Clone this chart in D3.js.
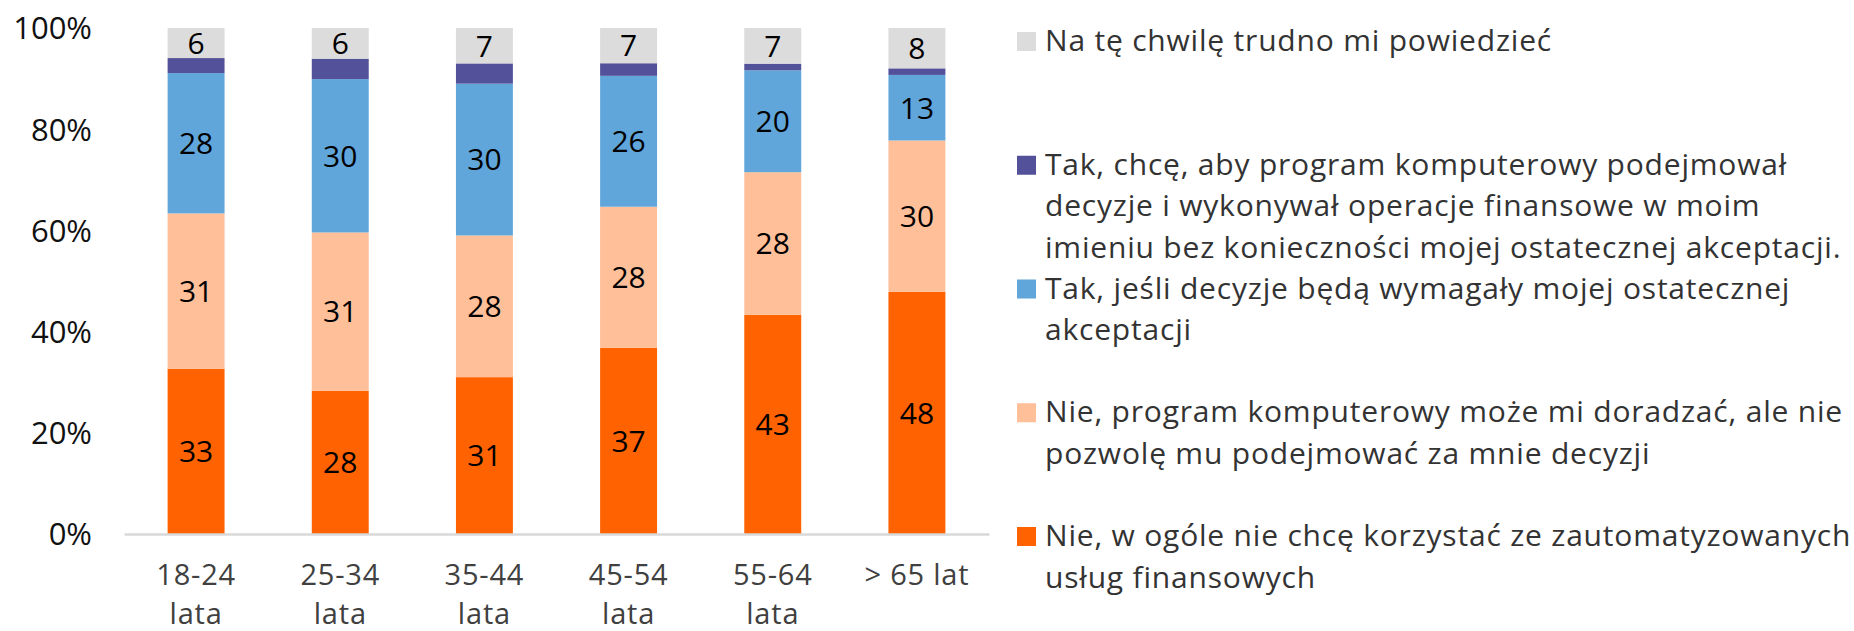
<!DOCTYPE html>
<html>
<head>
<meta charset="utf-8">
<script src="https://cdn.jsdelivr.net/npm/d3@7"></script>
<style>
  body { margin: 0; background: #fff; }
  text { font-family: "Open Sans", Lato, sans-serif; }
</style>
</head>
<body>
<div id="bar"></div>
<script>
// data (percent of respondents)
var categories = ["18-24 lata", "25-34 lata", "35-44 lata", "45-54 lata", "55-64 lata", "> 65 lat"];
var categoryLines = [["18-24", "lata"], ["25-34", "lata"], ["35-44", "lata"], ["45-54", "lata"], ["55-64", "lata"], ["> 65 lat"]];

var nieWcale = [33, 28, 31, 37, 43, 48];
var nieDoradzac = [31, 31, 28, 28, 28, 30];
var takAkceptacja = [28, 30, 30, 26, 20, 13];
var takBezAkceptacji = [3, 4, 4, 2.5, 1.3, 1.3];
var trudno = [6, 6, 7, 7, 7, 8];

var yTicks = [0, 0.2, 0.4, 0.6, 0.8, 1];

// bottom to top
var seriesKeys = ["nieWcale", "nieDoradzac", "takAkceptacja", "takBezAkceptacji", "trudno"];
var seriesValues = [nieWcale, nieDoradzac, takAkceptacja, takBezAkceptacji, trudno];
var seriesColors = ["#FF6200", "#FFBF99", "#60A6DA", "#525199", "#DCDCDC"];
var showLabel = [true, true, true, false, true];

// legend, top to bottom, with the line breaks of the picture
var legendKeys = ["trudno", "takBezAkceptacji", "takAkceptacja", "nieDoradzac", "nieWcale"];
var legendLines = [
  ["Na tę chwilę trudno mi powiedzieć"],
  ["Tak, chcę, aby program komputerowy podejmował",
   "decyzje i wykonywał operacje finansowe w moim",
   "imieniu bez konieczności mojej ostatecznej akceptacji."],
  ["Tak, jeśli decyzje będą wymagały mojej ostatecznej",
   "akceptacji"],
  ["Nie, program komputerowy może mi doradzać, ale nie",
   "pozwolę mu podejmować za mnie decyzji"],
  ["Nie, w ogóle nie chcę korzystać ze zautomatyzowanych",
   "usług finansowych"]
];

// build the table for the stack
var table = categories.map(function(c, i) {
  var row = {category: c};
  seriesKeys.forEach(function(k, j) { row[k] = seriesValues[j][i]; });
  return row;
});

var W = 1854, H = 631;
var color = d3.scaleOrdinal().domain(seriesKeys).range(seriesColors);

var x = d3.scaleBand()
          .domain(categories)
          .range([124, 989])
          .paddingInner(0.605)
          .paddingOuter(0.3025);
var y = d3.scaleLinear()
          .domain([0, 1])
          .range([534, 28]);

var svg = d3.select("#bar").append("svg")
    .attr("width", W)
    .attr("height", H);

var stacked = d3.stack()
    .keys(seriesKeys)
    .offset(d3.stackOffsetExpand)(table);

// the bars
var layer = svg.selectAll(".layer")
    .data(stacked)
  .enter().append("g")
    .attr("class", "layer")
    .style("fill", function(d) { return color(d.key); });

layer.selectAll("rect")
    .data(function(d) { return d; })
  .enter().append("rect")
    .attr("x", function(d) { return x(d.data.category); })
    .attr("width", x.bandwidth())
    .attr("y", function(d) { return y(d[1]); })
    .attr("height", function(d) { return y(d[0]) - y(d[1]); });

// value labels inside the segments
stacked.forEach(function(s, j) {
  if (!showLabel[j]) return;
  svg.append("g").selectAll("text")
      .data(s)
    .enter().append("text")
      .attr("x", function(d) { return x(d.data.category) + x.bandwidth() / 2; })
      .attr("y", function(d) { return (y(d[0]) + y(d[1])) / 2; })
      .attr("dy", "0.36em")
      .attr("text-anchor", "middle")
      .style("font-size", "30px")
      .style("fill", "#000")
      .text(function(d) { return d.data[s.key]; });
});

// y axis
var yAxis = svg.append("g")
    .attr("transform", "translate(124,0)")
    .call(d3.axisLeft(y).tickValues(yTicks).tickSize(0).tickPadding(32).tickFormat(d3.format(".0%")));
yAxis.select(".domain").remove();
yAxis.selectAll("text")
    .attr("dy", "0.35em")
    .style("font-size", "31px")
    .style("font-family", "'Open Sans', sans-serif")
    .style("fill", "#111");

// x axis
var xAxis = svg.append("g")
    .attr("transform", "translate(0," + y(0) + ")")
    .call(d3.axisBottom(x).tickSize(0));
xAxis.select(".domain")
    .attr("stroke", "#D9D9D9")
    .attr("stroke-width", 2.5);
xAxis.selectAll("text")
    .text(null)
    .attr("y", 51)
    .attr("dy", 0)
    .style("font-size", "29px")
    .style("letter-spacing", "0.8px")
    .style("font-family", "'Open Sans', sans-serif")
    .style("fill", "#404040")
    .each(function(d, i) {
      var t = d3.select(this);
      categoryLines[i].forEach(function(line, k) {
        t.append("tspan")
          .attr("x", 0)
          .attr("dy", k === 0 ? 0 : 39)
          .text(line);
      });
    });

// legend
var legend = svg.selectAll(".legend")
    .data(legendKeys)
  .enter().append("g")
    .attr("class", "legend")
    .attr("transform", function(d, i) { return "translate(1017," + (51 + i * 123.75) + ")"; });

legend.append("rect")
    .attr("x", 0)
    .attr("y", -19)
    .attr("width", 19)
    .attr("height", 19)
    .style("fill", function(d) { return color(d); });

legend.append("text")
    .attr("x", 28)
    .attr("y", 0)
    .style("font-size", "30px")
    .style("letter-spacing", "0.8px")
    .style("fill", "#333")
    .each(function(d, i) {
      var t = d3.select(this);
      legendLines[i].forEach(function(line, k) {
        t.append("tspan")
          .attr("x", 28)
          .attr("dy", k === 0 ? 0 : 41.5)
          .text(line);
      });
    });
</script>
</body>
</html>
